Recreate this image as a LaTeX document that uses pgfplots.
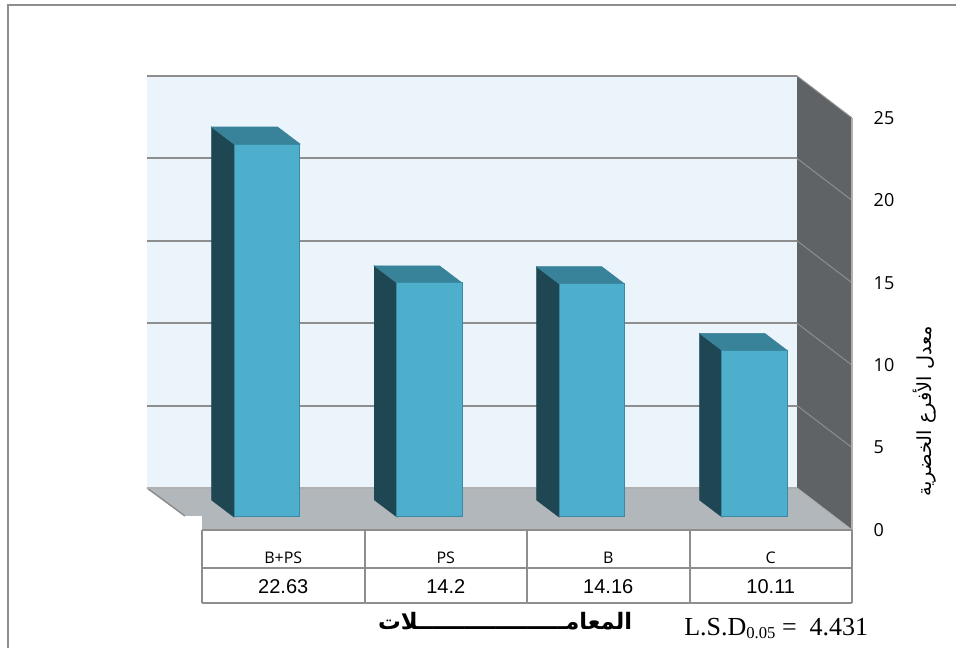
\documentclass[border=0pt]{standalone}
\usepackage{pgfplots}
\usepackage{pgfplotstable}
\pgfplotsset{compat=1.18}
\usepackage{fontspec}
\setmainfont{Liberation Sans}
\newfontfamily\serifnum{Liberation Serif}
\newfontfamily\ticksfont{Open Sans}
\newfontfamily\arabicfont[Script=Arabic]{DejaVu Sans}
\TeXXeTstate=1

\definecolor{wallback}{HTML}{EBF3FB}
\definecolor{wallside}{HTML}{5F6366}
\definecolor{floorgrey}{HTML}{B2B7BB}
\definecolor{gridgrey}{HTML}{8E8E8E}
\definecolor{barfront}{HTML}{4DAFCC}
\definecolor{barside}{HTML}{1F4753}
\definecolor{bartop}{HTML}{38829A}
\definecolor{barline}{HTML}{3A8AA3}

% one pixel of the page
\newlength{\px}\setlength{\px}{0.75pt}

% mean number of green branches per treatment
\pgfplotstableread{
pos  value
0.4  22.63
1.4  14.2
2.4  14.16
3.4  10.11
}\branchdata

% depth of the box and of each bar, in axis units
\def\boxdx{0.3385}
\def\boxdy{2.549}
\def\bardx{0.138}
\def\bardy{1.03}
\def\barlift{0.79}

% dark side and top of a bar: {left edge}{right edge}{value}
\newcommand{\barsolid}[3]{%
  \pgfmathsetmacro{\xa}{#1}\pgfmathsetmacro{\xb}{#2}%
  \pgfmathsetmacro{\xc}{#1-\bardx}\pgfmathsetmacro{\xd}{#2-\bardx}%
  \pgfmathsetmacro{\ya}{\barlift}\pgfmathsetmacro{\yb}{#3+\barlift}%
  \pgfmathsetmacro{\yc}{\barlift+\bardy}\pgfmathsetmacro{\yd}{#3+\barlift+\bardy}%
  \addplot[fill=barside,draw=barside,line width=0.5pt,forget plot]
    coordinates {(\xa,\ya)(\xa,\yb)(\xc,\yd)(\xc,\yc)} --cycle;
  \addplot[fill=bartop,draw=bartop,line width=0.5pt,forget plot]
    coordinates {(\xa,\yb)(\xb,\yb)(\xd,\yd)(\xc,\yd)} --cycle;
}

\begin{document}
\begin{tikzpicture}
\useasboundingbox (0,0) rectangle (956\px,648\px);
% outer frame of the figure
\draw[color=gridgrey,line width=2\px] (8\px,0) -- (8\px,643\px) -- (956\px,643\px);
\begin{axis}[
  at={(202\px,118\px)},anchor=south west,
  scale only axis,
  width=650\px,height=412\px,
  xmin=0,xmax=4,ymin=0,ymax=25,
  clip=false,
  axis line style={draw=none},
  tick style={draw=none},
  xtick={0.5,1.5,2.5,3.5},
  xticklabels={B+PS,PS,B,C},
  xticklabel style={font=\ticksfont\fontsize{12pt}{14pt}\selectfont,yshift=-17\px},
  ytick={0,5,10,15,20,25},
  yticklabel pos=right,
  yticklabel style={font=\ticksfont\fontsize{13.5pt}{15pt}\selectfont,xshift=17\px,anchor=west},
  /pgf/number format/assume math mode=true,
]
% back wall, side wall and floor of the box
\addplot[fill=wallback,draw=none,forget plot]
  coordinates {(-0.3385,2.549)(3.6615,2.549)(3.6615,27.549)(-0.3385,27.549)} --cycle;
\addplot[fill=wallside,draw=none,forget plot]
  coordinates {(3.6615,2.549)(4,0)(4,25)(3.6615,27.549)} --cycle;
\addplot[fill=floorgrey,draw=none,forget plot]
  coordinates {(-0.3385,2.549)(3.6615,2.549)(4,0)(0,0)(0,0.85)(-0.105,0.85)} --cycle;
\addplot[draw=gridgrey,line width=1.5\px,forget plot]
  coordinates {(-0.3385,2.549)(-0.105,0.85)};
\addplot[draw=gridgrey!70,line width=1\px,forget plot]
  coordinates {(3.6615,2.549)(4,0)};
\addplot[draw=gridgrey!70,line width=1.5\px,forget plot]
  coordinates {(-0.3385,2.549)(3.6615,2.549)};
% grid lines running along both walls
\pgfplotsinvokeforeach{5,10,15,20,25}{
  \pgfmathsetmacro{\yb}{#1+\boxdy}
  \addplot[draw=gridgrey,line width=2\px,forget plot]
    coordinates {(-0.3385,\yb)(3.6615,\yb)};
  \addplot[draw=gridgrey,line width=1\px,forget plot]
    coordinates {(3.6615,\yb)(4,#1)};
}
\addplot[draw=gridgrey!70,line width=1.6\px,forget plot]
  coordinates {(4,0)(4,25)};
% the four bars
\barsolid{0.197}{0.603}{22.63}
\barsolid{1.2}{1.6}{14.2}
\barsolid{2.197}{2.597}{14.16}
\barsolid{3.2}{3.6}{10.11}
\addplot[ybar,bar width=65.5\px,bar shift=0pt,yshift=13\px,
  fill=barfront,draw=barline,line width=1\px,forget plot]
  table[x=pos,y=value] {\branchdata};
% data table under the box
\pgfplotsinvokeforeach{0,-2.306,-4.43}{
  \addplot[draw=gridgrey,line width=2\px,forget plot] coordinates {(0,#1)(4,#1)};
}
\pgfplotsinvokeforeach{0,1,2,3,4}{
  \addplot[draw=gridgrey,line width=2\px,forget plot] coordinates {(#1,0)(#1,-4.43)};
}
\node[font=\fontsize{15pt}{17pt}\selectfont] at (axis cs:0.5,-3.43) {22.63};
\node[font=\fontsize{15pt}{17pt}\selectfont] at (axis cs:1.5,-3.43) {14.2};
\node[font=\fontsize{15pt}{17pt}\selectfont] at (axis cs:2.5,-3.43) {14.16};
\node[font=\fontsize{15pt}{17pt}\selectfont] at (axis cs:3.5,-3.43) {10.11};
% axis titles and the significance note
\node[font=\arabicfont\bfseries\fontsize{17pt}{19pt}\selectfont] at (axis cs:1.865,-5.52)
  {\beginR المعامـــــــــــــــــــلات\endR};
\node[anchor=base west,font=\serifnum\fontsize{19.5pt}{21pt}\selectfont,inner sep=0pt] at (axis cs:2.966,-6.43)
  {L.S.D\raisebox{-0.25ex}{\fontsize{12.5pt}{14pt}\selectfont 0.05} =\ \ 4.431};
\node[rotate=90,font=\arabicfont\fontsize{14.5pt}{16pt}\selectfont] at (axis cs:4.449,7.2)
  {\beginR معدل الأفرع الخضرية\endR};
\end{axis}
\end{tikzpicture}
\end{document}
